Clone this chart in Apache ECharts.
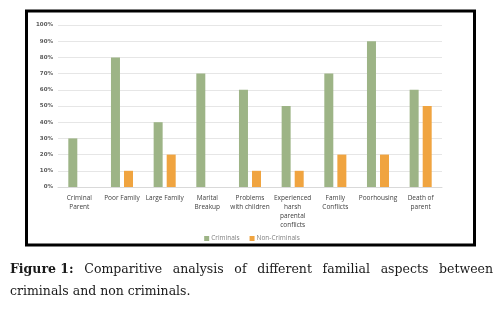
<!DOCTYPE html>
<html><head><meta charset="utf-8">
<script src="https://cdn.jsdelivr.net/npm/echarts@6/dist/echarts.min.js"></script>
<style>html,body{margin:0;padding:0;background:#fff}#c{width:504px;height:314px}</style>
</head><body><div id="c"></div>
<script>
const categories = ["Criminal\nParent","Poor Family","Large Family","Marital\nBreakup","Problems\nwith children","Experienced\nharsh\nparental\nconflicts","Family\nConflicts","Poorhousing","Death of\nparent"];
const criminals = [0.3,0.8,0.4,0.7,0.6,0.5,0.7,0.9,0.6];
const nonCriminals = [0,0.1,0.2,0,0.1,0.1,0.2,0.2,0.5];
const seriesNames = ["Criminals","Non-Criminals"];
const captionLine1 = ["Comparitive","analysis","of","different","familial","aspects","between"];
const captionBold = "Figure 1:";
const captionLine2 = "criminals and non criminals.";

const chart = echarts.init(document.getElementById('c'), null, {renderer:'canvas'});
const serif = '"DejaVu Serif", "Liberation Serif", serif';
const capSize = 12.5;
// justify first caption line
const ctx = document.createElement('canvas').getContext('2d');
const words = [{t:captionBold,b:true}].concat(captionLine1.map(t=>({t,b:false})));
let total = 0;
words.forEach(w=>{ctx.font=(w.b?'bold ':'')+capSize+'px '+serif; w.w=ctx.measureText(w.t).width; total+=w.w;});
const x0 = 10, x1 = 493;
const gap = (x1-x0-total)/(words.length-1);
let cx = x0;
const capGraphics = [];
words.forEach(w=>{
  capGraphics.push({type:'text', left:cx, top:263, style:{text:w.t, font:(w.b?'bold ':'')+capSize+'px '+serif, fill:'#1a1a1a'}});
  cx += w.w + gap;
});
capGraphics.push({type:'text', left:x0, top:285, style:{text:captionLine2, font:capSize+'px '+serif, fill:'#1a1a1a'}});

chart.setOption({
  animation:false,
  grid:{left:58, right:62, top:25, bottom:127, containLabel:false},
  legend:{data:seriesNames, bottom:67, left:'center', itemWidth:5, itemHeight:5, itemGap:10, icon:'rect',
    textStyle:{fontSize:6.5, color:'#7f7f7f', fontFamily:'"Open Sans", sans-serif', padding:[0,0,0,-3]}},
  xAxis:{type:'category', data:categories,
    axisLine:{lineStyle:{color:'#d9d9d9'}}, axisTick:{show:false},
    axisLabel:{interval:0, fontSize:6.5, lineHeight:9, color:'#404040', margin:7, fontFamily:'"Open Sans", sans-serif'}},
  yAxis:{type:'value', min:0, max:1, interval:0.1,
    axisLabel:{formatter:v=>Math.round(v*100)+'%', fontSize:5.5, color:'#595959', fontWeight:'bold', margin:5, fontFamily:'"DejaVu Sans", sans-serif'},
    splitLine:{lineStyle:{color:'#e6e6e6', width:1}}, axisLine:{show:false}, axisTick:{show:false}},
  series:[
    {name:seriesNames[0], type:'bar', data:criminals, barWidth:9, barGap:'45%', itemStyle:{color:'#9db486'}},
    {name:seriesNames[1], type:'bar', data:nonCriminals, barWidth:9, itemStyle:{color:'#f0a440'}}
  ],
  graphic:[{type:'rect', shape:{x:26.5, y:11, width:448, height:234}, style:{fill:'none', stroke:'#000', lineWidth:3}, silent:true}].concat(capGraphics)
});
</script></body></html>
